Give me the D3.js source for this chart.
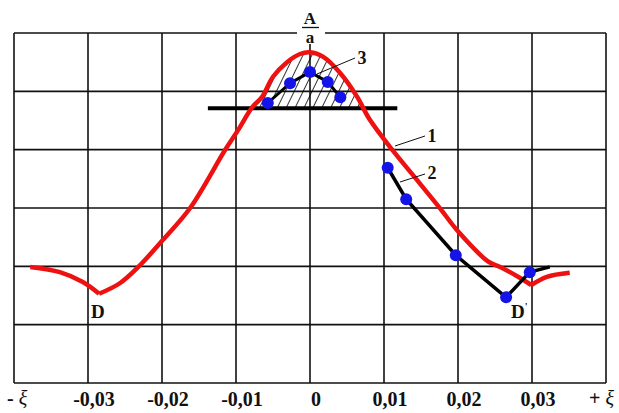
<!DOCTYPE html>
<html>
<head>
<meta charset="utf-8">
<title>Curves</title>
<style>
  body, html { margin: 0; padding: 0; background: #fff; }
  svg { display: block; }
  text { font-family: "Liberation Serif", "Times New Roman", serif; font-weight: bold; fill: #111; }
</style>
</head>
<body>
<svg id="svg" width="619" height="413"></svg>
<script src="https://cdn.jsdelivr.net/npm/d3@7"></script>
<script>
// grid values (xi on x, arbitrary units on y)
const gridX = [-0.04, -0.03, -0.02, -0.01, 0, 0.01, 0.02, 0.03, 0.04]
const gridY = [0, 1, 2, 3, 4, 5, 6]
const tickVals = [-0.03, -0.02, -0.01, 0, 0.01, 0.02, 0.03]
const tickLabels = ['-0,03', '-0,02', '-0,01', '0', '0,01', '0,02', '0,03']

// curve 1 (red)
const redXi = [-0.0378, -0.0338, -0.0307, -0.0285, -0.0257, -0.0232, -0.0199, -0.0162, -0.0115, -0.0097,
  -0.0078, -0.0065, -0.0050, -0.0031, -0.00135, 0, 0.0018, 0.0041, 0.0064, 0.0080, 0.0111,
  0.0142, 0.0176, 0.0200, 0.0241, 0.0257, 0.0284, 0.0299, 0.0320, 0.0351]
const redY = [1.99, 1.90, 1.73, 1.53, 1.71, 1.99, 2.45, 3.00, 3.99, 4.34,
  4.73, 4.90, 5.25, 5.50, 5.64, 5.67, 5.59, 5.31, 4.90, 4.53, 4.00,
  3.52, 2.99, 2.60, 2.08, 1.99, 1.80, 1.68, 1.82, 1.89]
const redBreaks = [3, 27] // D and D'

// curve 2 (black with points)
const c2Xi = [0.0105, 0.0130, 0.0197, 0.0265, 0.0297]
const c2Y = [3.69, 3.15, 2.19, 1.47, 1.90]
const c2EndXi = 0.0324, c2EndY = 1.99

// curve 3 (points on top)
const c3Xi = [-0.0057, -0.0027, 0, 0.0024, 0.0041]
const c3Y = [4.80, 5.14, 5.33, 5.16, 4.90]

// level line under curve 3
const levelY = 4.71
const levelXi = [-0.0138, 0.0118]

const svg = d3.select('#svg')
const x = d3.scaleLinear().domain([-0.04, 0.04]).range([14, 606])
const y = d3.scaleLinear().domain([0, 6]).range([383, 33])

const red = redXi.map((v, i) => ({ xi: v, y: redY[i] }))
const c2 = c2Xi.map((v, i) => ({ xi: v, y: c2Y[i] }))
const c3 = c3Xi.map((v, i) => ({ xi: v, y: c3Y[i] }))

// hatch pattern
const defs = svg.append('defs')
defs.append('pattern')
  .attr('id', 'hatch')
  .attr('patternUnits', 'userSpaceOnUse')
  .attr('width', 8).attr('height', 8)
  .attr('patternTransform', 'rotate(26)')
  .append('line')
  .attr('x1', 0).attr('y1', 0).attr('x2', 0).attr('y2', 8)
  .attr('stroke', '#000').attr('stroke-width', 1.6)
defs.append('clipPath').attr('id', 'above')
  .append('rect')
  .attr('x', 0).attr('y', 0)
  .attr('width', 619).attr('height', y(levelY))

// grid
svg.append('g').selectAll('line').data(gridX).enter().append('line')
  .attr('x1', d => x(d)).attr('x2', d => x(d))
  .attr('y1', y(6)).attr('y2', y(0))
  .attr('stroke', '#111').attr('stroke-width', 1.6)
svg.append('g').selectAll('line').data(gridY).enter().append('line')
  .attr('x1', x(-0.04)).attr('x2', x(0.04))
  .attr('y1', d => y(d)).attr('y2', d => y(d))
  .attr('stroke', '#111').attr('stroke-width', 1.6)

// hatched region under red peak
const inLevel = red.filter(d => d.xi >= levelXi[0] && d.xi <= levelXi[1])
svg.append('path')
  .datum(inLevel)
  .attr('clip-path', 'url(#above)')
  .attr('fill', 'url(#hatch)')
  .attr('d', d3.area().curve(d3.curveCatmullRom)
    .x(d => x(d.xi)).y0(y(levelY)).y1(d => y(d.y)))

// level line
svg.append('line')
  .attr('x1', x(levelXi[0])).attr('x2', x(levelXi[1]))
  .attr('y1', y(levelY)).attr('y2', y(levelY))
  .attr('stroke', '#000').attr('stroke-width', 4)

// red curve, drawn in pieces so the D corners stay sharp
const redLine = d3.line().curve(d3.curveCatmullRom).x(d => x(d.xi)).y(d => y(d.y))
const cuts = [0, ...redBreaks, red.length - 1]
for (let i = 0; i < cuts.length - 1; i++) {
  svg.append('path')
    .datum(red.slice(cuts[i], cuts[i + 1] + 1))
    .attr('fill', 'none')
    .attr('stroke', '#ee1111')
    .attr('stroke-width', 4.5)
    .attr('stroke-linejoin', 'round')
    .attr('d', redLine)
}

// black lines
const blackLine = d3.line().x(d => x(d.xi)).y(d => y(d.y))
svg.append('path')
  .datum([...c2, { xi: c2EndXi, y: c2EndY }])
  .attr('fill', 'none').attr('stroke', '#000').attr('stroke-width', 3.5)
  .attr('d', blackLine)
svg.append('path')
  .datum(c3)
  .attr('fill', 'none').attr('stroke', '#000').attr('stroke-width', 3)
  .attr('d', blackLine)

// blue dots
svg.append('g').selectAll('circle').data([...c2, ...c3]).enter().append('circle')
  .attr('cx', d => x(d.xi)).attr('cy', d => y(d.y))
  .attr('r', 6)
  .attr('fill', '#1414e8')

// leaders and numbers
const leaders = [
  { n: '3', x1: 317, y1: 74, x2: 355, y2: 58, tx: 362, ty: 64 },
  { n: '1', x1: 395, y1: 146, x2: 425, y2: 136, tx: 432, ty: 142 },
  { n: '2', x1: 400, y1: 182, x2: 425, y2: 174, tx: 432, ty: 179 }
]
leaders.forEach(l => {
  svg.append('line')
    .attr('x1', l.x1).attr('y1', l.y1).attr('x2', l.x2).attr('y2', l.y2)
    .attr('stroke', '#111').attr('stroke-width', 1)
  svg.append('text')
    .attr('x', l.tx).attr('y', l.ty)
    .attr('text-anchor', 'middle')
    .attr('font-size', 18)
    .text(l.n)
})

// A / a label over the peak
svg.append('rect')
  .attr('x', 297).attr('y', 28).attr('width', 28).attr('height', 16)
  .attr('fill', '#fff')
svg.append('text').attr('x', 310).attr('y', 24)
  .attr('text-anchor', 'middle').attr('font-size', 17).text('A')
svg.append('line')
  .attr('x1', 302).attr('x2', 319).attr('y1', 27.5).attr('y2', 27.5)
  .attr('stroke', '#111').attr('stroke-width', 1.3)
svg.append('text').attr('x', 310).attr('y', 43)
  .attr('text-anchor', 'middle').attr('font-size', 17).text('a')

// D marks
svg.append('text').attr('x', x(redXi[redBreaks[0]]) - 8).attr('y', 318)
  .attr('font-size', 19).text('D')
const dp = svg.append('text').attr('x', 511).attr('y', 318)
  .attr('font-size', 19).text('D')
dp.append('tspan').attr('font-size', 10).attr('dy', -8).text("'")

// x tick labels
svg.append('g').selectAll('text').data(tickVals).enter().append('text')
  .attr('x', d => x(d) + 6)
  .attr('y', 406)
  .attr('text-anchor', 'middle')
  .attr('font-size', 20)
  .text((d, i) => tickLabels[i])

const ends = svg.append('g').attr('font-size', 20)
ends.append('text').attr('x', 7).attr('y', 405).text('- ')
  .append('tspan').attr('font-style', 'italic').attr('font-weight', 'normal').text('ξ')
ends.append('text').attr('x', 589).attr('y', 405).text('+ ')
  .append('tspan').attr('font-style', 'italic').attr('font-weight', 'normal').text('ξ')
</script>
</body>
</html>
